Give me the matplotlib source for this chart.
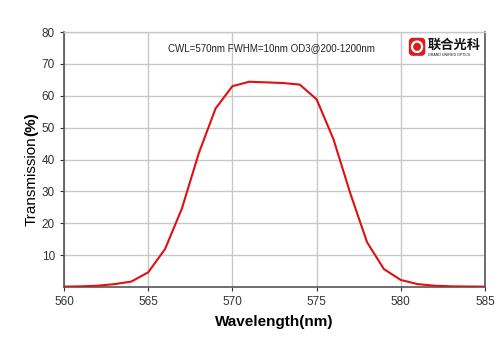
import matplotlib
matplotlib.use("Agg")
import matplotlib.pyplot as plt
from matplotlib.patches import FancyBboxPatch, Circle, Rectangle

plt.rcParams['font.family'] = ['Liberation Sans', 'Noto Sans CJK SC', 'DejaVu Sans']

wavelength = [560, 561, 562, 563, 564, 565, 566, 567, 568, 569, 570, 571, 572, 573, 574,
              575, 576, 577, 578, 579, 580, 581, 582, 583, 584, 585]
transmission = [0.1, 0.2, 0.4, 0.9, 1.7, 4.6, 11.9, 24.6, 41.9, 56.0, 63.0, 64.4, 64.2, 64.0, 63.5,
                58.9, 46.4, 29.4, 14.0, 5.6, 2.2, 0.9, 0.4, 0.2, 0.15, 0.1]
x_ticks = [560, 565, 570, 575, 580, 585]
y_ticks = [10, 20, 30, 40, 50, 60, 70, 80]
annotation = "CWL=570nm FWHM=10nm OD3@200-1200nm"

fig = plt.figure(figsize=(5, 3.53), dpi=100)
ax = fig.add_axes([0.128, 0.187, 0.842, 0.7223])
ax.plot(wavelength, transmission, color='#e01010', lw=1.5, zorder=3)
ax.set_xlim(560, 585)
ax.set_ylim(0, 80)
ax.set_xticks(x_ticks)
ax.set_yticks(y_ticks)
ax.grid(True, color='#c8c8c8', lw=1.0)
ax.tick_params(labelsize=8.5, colors='#333333', length=3, width=0.8)
for s in ax.spines.values():
    s.set_color('#555555')
    s.set_linewidth(1.2)
ax.spines['top'].set_color('#c8c8c8')
ax.spines['top'].set_linewidth(1.0)

ax.set_xlabel('Wavelength(nm)', fontsize=11, fontweight='bold', labelpad=5)

# y label: "Transmission" regular + "(%)" bold, stacked
y_bottom = 1 - 226 / 353
t1 = fig.text(0.063, y_bottom, 'Transmission', rotation=90, fontsize=11,
              ha='center', va='bottom', rotation_mode='default')
fig.canvas.draw()
bb = t1.get_window_extent(renderer=fig.canvas.get_renderer())
top_frac = bb.y1 / fig.bbox.height
fig.text(0.063, top_frac, '(%)', rotation=90, fontsize=11, fontweight='bold',
         ha='center', va='bottom')

ax.text(0.492, 0.935, annotation, transform=ax.transAxes, fontsize=7, ha='center',
        va='center', color='#222222')

# logo
ax_logo = fig.add_axes([0.815, 0.835, 0.149, 0.065])
ax_logo.set_xlim(0, 74)
ax_logo.set_ylim(0, 22)
ax_logo.axis('off')
ax_logo.add_patch(Rectangle((0, 0), 74, 22, color='white', zorder=0))
ax_logo.add_patch(FancyBboxPatch((2, 3), 15, 16, boxstyle='round,pad=0,rounding_size=3', color='#d81e1e'))
ax_logo.add_patch(Circle((9.5, 11), 5, fill=False, ec='white', lw=1.6))
ax_logo.text(20, 13, '联合光科', fontsize=9.5, fontweight='bold', family=['Noto Sans CJK SC'],
             va='center', ha='left', color='#111111')
ax_logo.text(20, 3.5, 'GRAND UNIFIED OPTICS', fontsize=2.6, va='center', ha='left', color='#111111')

fig.savefig('out.png', dpi=100)
